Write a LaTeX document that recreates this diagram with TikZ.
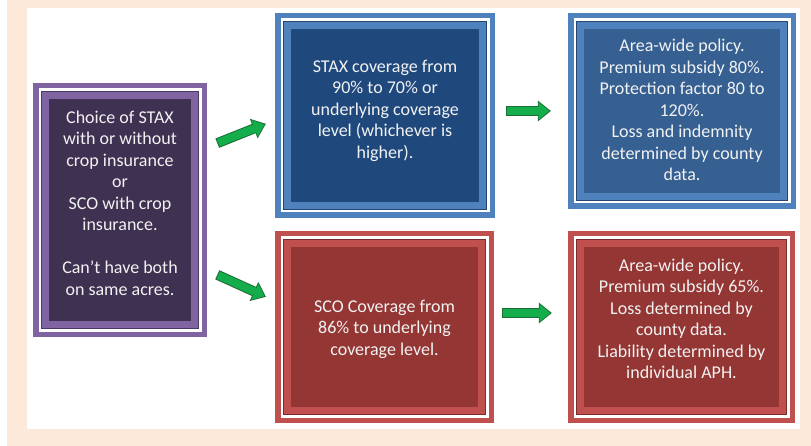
\documentclass[tikz,border=0pt]{standalone}
\usepackage{fontspec}
\setmainfont{Carlito}
\usetikzlibrary{calc,arrows.meta}
\definecolor{peach}{HTML}{FDE9D9}
\definecolor{txtc}{HTML}{F2F2F2}
\definecolor{pband}{HTML}{8064A2}
\definecolor{pdark}{HTML}{4A3A63}
\definecolor{pfill}{HTML}{3F3151}
\definecolor{bband}{HTML}{4F81BD}
\definecolor{bdark}{HTML}{24466F}
\definecolor{bfillA}{HTML}{1F497D}
\definecolor{bfillB}{HTML}{366092}
\definecolor{rband}{HTML}{C0504D}
\definecolor{rdark}{HTML}{7A2C2A}
\definecolor{rfill}{HTML}{943634}
\definecolor{ggreen}{HTML}{13AE4B}
\definecolor{gdark}{HTML}{1B6E35}
\tikzset{
  frm/.style n args={3}{rectangle, inner sep=0pt, fill=#1,
    path picture={
      \fill[white] ([shift={(5.5pt,-5.5pt)}]path picture bounding box.north west) rectangle ([shift={(-5.5pt,5.5pt)}]path picture bounding box.south east);
      \fill[#2] ([shift={(8pt,-8pt)}]path picture bounding box.north west) rectangle ([shift={(-8pt,8pt)}]path picture bounding box.south east);
      \fill[#1] ([shift={(9.2pt,-9.2pt)}]path picture bounding box.north west) rectangle ([shift={(-9.2pt,9.2pt)}]path picture bounding box.south east);
      \fill[#3] ([shift={(16pt,-16pt)}]path picture bounding box.north west) rectangle ([shift={(-16pt,16pt)}]path picture bounding box.south east);
    }},
  txt/.style={align=center, text=txtc, inner sep=0pt, font=\fontsize{18}{21.5}\selectfont},
  garrowout/.style={draw=gdark, line width=10pt, shorten <=-1pt, -{Triangle[width=21pt,length=13pt,line width=0pt]}},
  garrowin/.style={draw=ggreen, line width=8pt, shorten >=1.6pt, -{Triangle[width=17.5pt,length=10.5pt,line width=0pt]}}
}
\begin{document}
\begin{tikzpicture}[x=1pt,y=-1pt]
\useasboundingbox (0,0) rectangle (811,446);
\fill[white] (0,0) rectangle (811,446);
\fill[peach] (7,0) rectangle (811,446);
\fill[white] (27,8) rectangle (800,429);

% frames
\node[frm={pband}{pdark}{pfill}, minimum width=174pt, minimum height=254pt] (left) at (120,210) {};
\node[frm={bband}{bdark}{bfillA}, minimum width=220pt, minimum height=205pt] (tm) at (385,115.5) {};
\node[frm={bband}{bdark}{bfillB}, minimum width=228pt, minimum height=196pt] (tr) at (682,111) {};
\node[frm={rband}{rdark}{rfill}, minimum width=219pt, minimum height=192pt] (bm) at (384.5,327) {};
\node[frm={rband}{rdark}{rfill}, minimum width=227pt, minimum height=192pt] (br) at (681.5,327) {};

% texts
\node[txt] (leftt) at ([yshift=7pt]left.center) {Choice of STAX\\with or without\\crop insurance\\or\\SCO with crop\\insurance.\\[21.5pt]Can’t have both\\on same acres.};
\node[txt] (tmt) at ([yshift=5pt]tm.center) {STAX coverage from\\90\% to 70\% or\\underlying coverage\\level (whichever is\\higher).};
\node[txt] (trt) at ([yshift=1pt]tr.center) {Area-wide policy.\\Premium subsidy 80\%.\\Protection factor 80 to\\120\%.\\Loss and indemnity\\determined by county\\data.};
\node[txt] (bmt) at ([yshift=-2pt]bm.center) {SCO Coverage from\\86\% to underlying\\coverage level.};
\node[txt] (brt) at ([yshift=8pt]br.center) {Area-wide policy.\\Premium subsidy 65\%.\\Loss determined by\\county data.\\Liability determined by\\individual APH.};

% arrow end points
\coordinate (a1s) at ($(left.north east)+(11,60)$);
\coordinate (a1e) at ($(tm.north west)+(-9,111)$);
\coordinate (a2s) at ($(left.south east)+(11,-62)$);
\coordinate (a2e) at ($(bm.north west)+(-9,66)$);
\coordinate (a3s) at ($(tm.east)+(12,-4.5)$);
\coordinate (a3e) at ($(tr.west)+(-17,0)$);
\coordinate (a4s) at ($(bm.east)+(9,-14)$);
\coordinate (a4e) at ($(br.west)+(-16,-14)$);

\foreach \s/\e in {a1s/a1e,a2s/a2e,a3s/a3e,a4s/a4e}{
  \draw[garrowout] (\s) -- (\e);
  \draw[garrowin] (\s) -- (\e);
}
\end{tikzpicture}
\end{document}
